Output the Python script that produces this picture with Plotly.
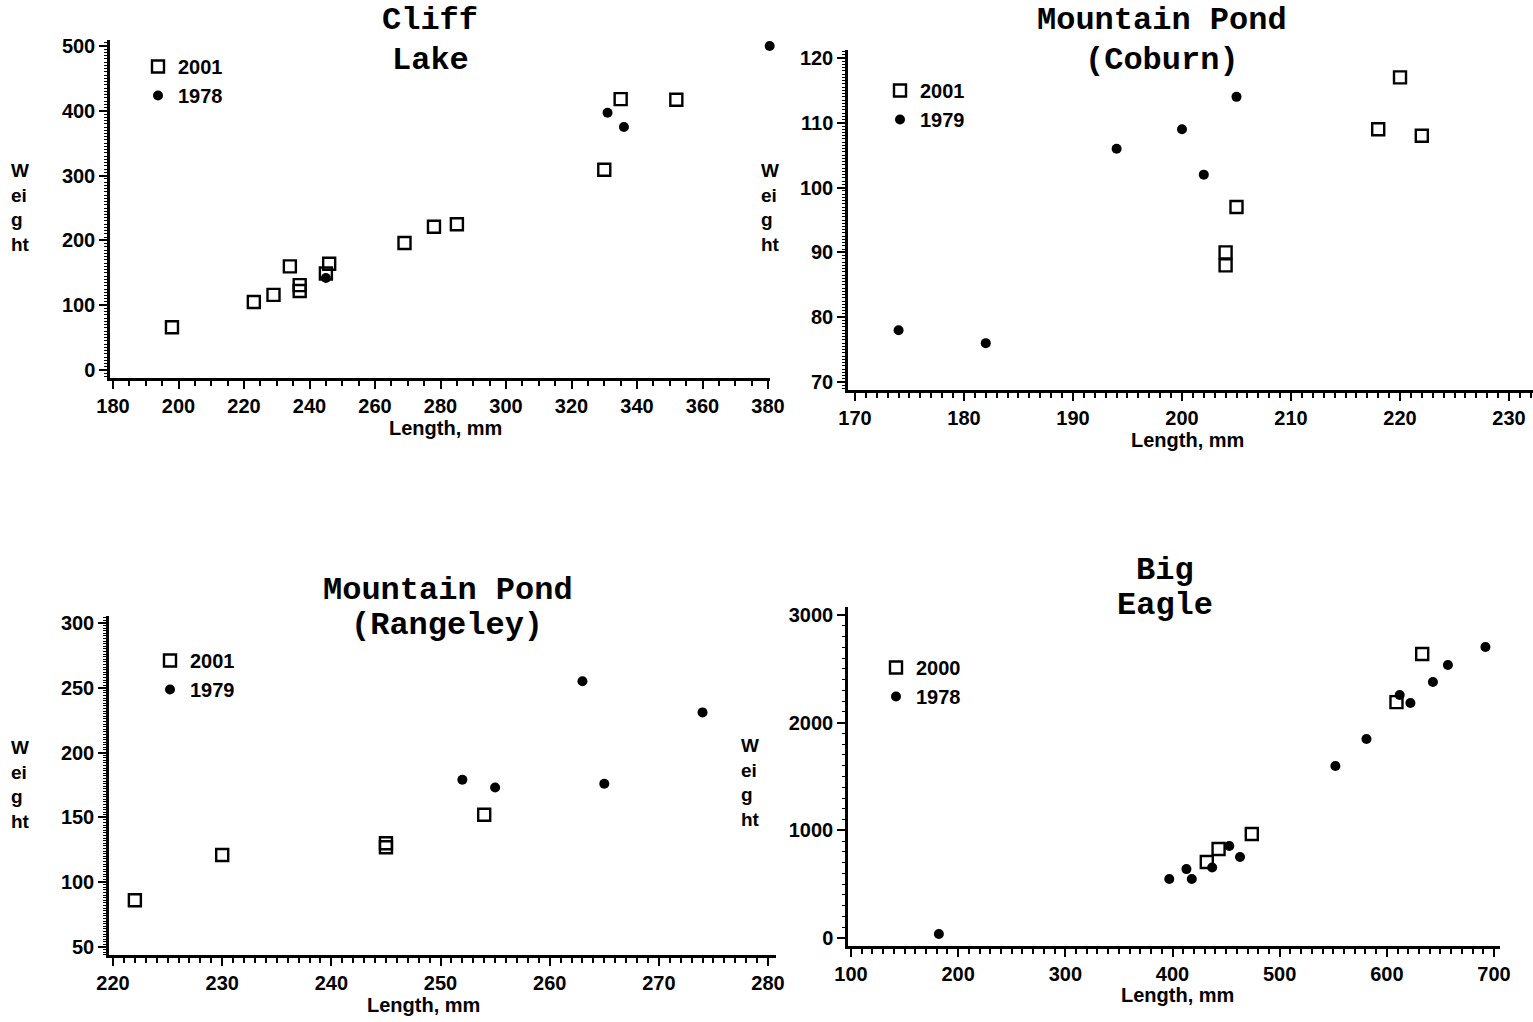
import plotly.graph_objects as go

W, H = 1533, 1022

# ---------------- data ----------------
# Cliff Lake
cliff_2001_len = [198, 223, 229, 234, 237, 237, 245, 246, 269, 278, 285, 330, 335, 352]
cliff_2001_wt = [66, 105, 116, 160, 131, 122, 149, 164, 196, 221, 225, 309, 418, 417]
cliff_1978_len = [245, 331, 336, 380.5]
cliff_1978_wt = [142, 397, 375, 500]

# Mountain Pond (Coburn)
coburn_2001_len = [204, 204, 205, 218, 220, 222]
coburn_2001_wt = [90, 88, 97, 109, 117, 108]
coburn_1979_len = [174, 182, 194, 200, 202, 205]
coburn_1979_wt = [78, 76, 106, 109, 102, 114]

# Mountain Pond (Rangeley)
rang_2001_len = [222, 230, 245, 245, 254]
rang_2001_wt = [86, 121, 130, 127, 152]
rang_1979_len = [252, 255, 263, 265, 274]
rang_1979_wt = [179, 173, 255, 176, 231]

# Big Eagle
eagle_2000_len = [432, 443, 474, 609, 633]
eagle_2000_wt = [706, 826, 966, 2191, 2637]
eagle_1978_len = [182, 397, 413, 418, 437, 453, 463, 552, 581, 612, 622, 643, 657, 692]
eagle_1978_wt = [37, 548, 640, 548, 655, 854, 752, 1597, 1848, 2256, 2182, 2377, 2535, 2702]

BOLD = dict(family="Liberation Sans, Arial, sans-serif", size=20, color="black", weight="bold")
MONO = dict(family="Liberation Mono, Courier New, monospace", size=32, color="black", weight="bold")


def dx(px):
    return px / W


def dy(py):
    return 1 - py / H


panels = [
    dict(sq=(cliff_2001_len, cliff_2001_wt, "2001"), dot=(cliff_1978_len, cliff_1978_wt, "1978"),
         xpix=(110, 770), ypix=(40, 378), xr=[179.08, 380.6], yr=[-12.3, 509.3],
         xdt=20, xminor=5, ydt=100, yminor=5,
         leg=(138, 47), title=[("Cliff", 430, 21), ("Lake", 430, 60)],
         ylab=(20, 207), xlab=(445, 428)),
    dict(sq=(coburn_2001_len, coburn_2001_wt, "2001"), dot=(coburn_1979_len, coburn_1979_wt, "1979"),
         xpix=(848, 1533), ypix=(50, 390), xr=[169.36, 232.2], yr=[68.77, 121.23],
         xdt=10, xminor=1, ydt=10, yminor=0.5,
         leg=(880, 71), title=[("Mountain Pond", 1162, 21), ("(Coburn)", 1162, 60)],
         ylab=(770, 207), xlab=(1187, 440)),
    dict(sq=(rang_2001_len, rang_2001_wt, "2001"), dot=(rang_1979_len, rang_1979_wt, "1979"),
         xpix=(109, 776), ypix=(616, 955), xr=[219.63, 280.73], yr=[43.8, 305.4],
         xdt=10, xminor=1, ydt=50, yminor=2,
         leg=(150, 641), title=[("Mountain Pond", 448, 590), ("(Rangeley)", 447, 625)],
         ylab=(20, 784), xlab=(423, 1005)),
    dict(sq=(eagle_2000_len, eagle_2000_wt, "2000"), dot=(eagle_1978_len, eagle_1978_wt, "1978"),
         xpix=(848, 1500), ypix=(607, 946), xr=[97.2, 705.6], yr=[-74.3, 3074],
         xdt=100, xminor=10, ydt=1000, yminor=100,
         leg=(876, 648), title=[("Big", 1165, 570), ("Eagle", 1165, 605)],
         ylab=(750, 782), xlab=(1177, 995)),
]

fig = go.Figure()
annotations = []
layout = dict(width=W, height=H, margin=dict(l=0, r=0, t=0, b=0, autoexpand=False),
              paper_bgcolor="white", plot_bgcolor="white", showlegend=True)

for i, p in enumerate(panels, start=1):
    sfx = "" if i == 1 else str(i)
    legname = "legend" + sfx
    xa, ya = "x" + sfx, "y" + sfx
    fig.add_trace(go.Scatter(
        x=p["sq"][0], y=p["sq"][1], name=p["sq"][2], mode="markers",
        marker=dict(symbol="square-open", size=12, color="black", line=dict(width=2.4, color="black")),
        xaxis=xa, yaxis=ya, legend=legname, cliponaxis=False))
    fig.add_trace(go.Scatter(
        x=p["dot"][0], y=p["dot"][1], name=p["dot"][2], mode="markers",
        marker=dict(symbol="circle", size=10, color="black"),
        xaxis=xa, yaxis=ya, legend=legname, cliponaxis=False))

    common = dict(showgrid=False, zeroline=False, showline=True, linecolor="black", linewidth=2.5,
                  ticks="outside", ticklen=8, tickwidth=2, tickcolor="black",
                  tickfont=BOLD, automargin=False)
    layout["xaxis" + sfx] = dict(
        common, domain=[dx(p["xpix"][0]), dx(p["xpix"][1])], range=p["xr"], anchor=ya,
        dtick=p["xdt"], tick0=0,
        minor=dict(dtick=p["xminor"], ticks="outside", ticklen=5, tickwidth=1.8, tickcolor="black"))
    layout["yaxis" + sfx] = dict(
        common, domain=[dy(p["ypix"][1]), dy(p["ypix"][0])], range=p["yr"], anchor=xa,
        dtick=p["ydt"], tick0=0,
        minor=dict(dtick=p["yminor"], ticks="outside", ticklen=3, tickwidth=1, tickcolor="black"))
    layout[legname] = dict(x=dx(p["leg"][0]), y=dy(p["leg"][1]), xanchor="left", yanchor="top",
                           font=BOLD, bgcolor="rgba(0,0,0,0)", itemwidth=30,
                           tracegroupgap=0)
    for txt, tx, ty in p["title"]:
        annotations.append(dict(text=txt, x=dx(tx), y=dy(ty), xref="paper", yref="paper",
                                showarrow=False, xanchor="center", yanchor="middle", font=MONO))
    annotations.append(dict(text="W<br>ei<br>g<br>ht", x=dx(p["ylab"][0]), y=dy(p["ylab"][1]),
                            xref="paper", yref="paper", showarrow=False, xanchor="center",
                            yanchor="middle", align="left", font=dict(BOLD, size=19)))
    annotations.append(dict(text="Length, mm", x=dx(p["xlab"][0]), y=dy(p["xlab"][1]),
                            xref="paper", yref="paper", showarrow=False, xanchor="center",
                            yanchor="middle", font=BOLD))

layout["annotations"] = annotations
fig.update_layout(**layout)
fig.write_html("out.html", config={"displayModeBar": False},
               post_script="document.body.style.margin='0';document.body.style.overflow='hidden';")
